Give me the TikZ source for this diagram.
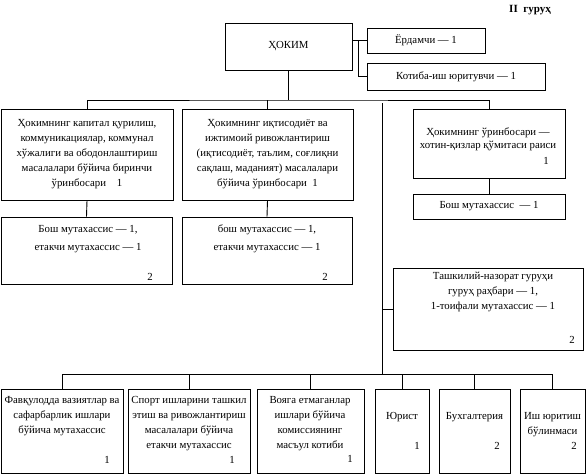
\documentclass[tikz,border=0pt]{standalone}
\usepackage{fontspec}
\setmainfont{Liberation Serif}
\begin{document}
\begin{tikzpicture}[x=1pt,y=-1pt,line width=0.9pt,
    box/.style={draw,inner sep=0pt,align=center,font=\fontsize{10.8}{15}\selectfont},
    txt/.style={inner sep=0pt,align=center,font=\fontsize{10.8}{15}\selectfont},
    num/.style={inner sep=0pt,font=\fontsize{10.8}{15}\selectfont}]
    \useasboundingbox (0,0) rectangle (586,475);
    \node[font=\bfseries\fontsize{11}{13}\selectfont] (grp) at (530,10) {II~ гуруҳ};
    % top level
    \node[box,minimum width=127,minimum height=47] (hokim) at (288.5,46.5) {ҲОКИМ};
    \node[box,minimum width=118,minimum height=25] (yordam) at (426,40.5) {Ёрдамчи — 1};
    \node[box,minimum width=178,minimum height=27] (kotiba) at (456,76.5) {Котиба-иш юритувчи — 1};
    \coordinate (fork) at (358,0);
    \coordinate (bus) at (289,100);
    \coordinate (spine) at (382,103);
    \coordinate (bus2) at (382,374);
    % deputies
    \node[box,minimum width=172,minimum height=91] (o1) at (87,154.5)
      {Ҳокимнинг капитал қурилиш,\\ коммуникациялар, коммунал\\ хўжалиги ва ободонлаштириш\\ масалалари бўйича биринчи\\ ўринбосари\quad 1};
    \node[box,minimum width=171,minimum height=91] (o2) at (267.5,154.5)
      {Ҳокимнинг иқтисодиёт ва\\ ижтимоий ривожлантириш\\ (иқтисодиёт, таълим, соғлиқни\\ сақлаш, маданият) масалалари\\ бўйича ўринбосари~ 1};
    \node[box,minimum width=152,minimum height=69] (o3) at (489,143.5) {};
    \node[txt] (o3t) at (488,139.5) {Ҳокимнинг ўринбосари —\\[-2pt] хотин-қизлар қўмитаси раиси};
    \node[num] (o3n) at (546,161) {1};
    \node[box,minimum width=152,minimum height=25] (o3b) at (489,206.5) {Бош мутахассис~ — 1};
    % specialists
    \node[box,minimum width=171,minimum height=67] (s1) at (86.5,250.5) {};
    \node[txt] (s1t) at (88,239) {Бош мутахассис — 1,\\[3pt] етакчи мутахассис — 1};
    \node[num] (s1n) at (150,277) {2};
    \node[box,minimum width=170,minimum height=67] (s2) at (267,250.5) {};
    \node[txt] (s2t) at (267,239) {бош мутахассис — 1,\\[3pt] етакчи мутахассис — 1};
    \node[num] (s2n) at (325,277) {2};
    \node[box,minimum width=190,minimum height=82] (tash) at (488,309) {};
    \node[txt] (tasht) at (493,292) {Ташкилий-назорат гуруҳи\\ гуруҳ раҳбари — 1,\\ 1-тоифали мутахассис — 1};
    \node[num] (tashn) at (572,340) {2};
    % bottom row
    \node[box,minimum width=122,minimum height=84] (b1) at (62,431) {};
    \node[txt] (b1t) at (62,416.5) {Фавқулодда вазиятлар ва\\ сафарбарлик ишлари\\ бўйича мутахассис};
    \node[num] (b1n) at (107,460) {1};
    \node[box,minimum width=122,minimum height=84] (b2) at (189,431) {};
    \node[txt] (b2t) at (189,424) {Спорт ишларини ташкил\\ этиш ва ривожлантириш\\ масалалари бўйича\\ етакчи мутахассис};
    \node[num] (b2n) at (232,460) {1};
    \node[box,minimum width=107,minimum height=84] (b3) at (310.5,431) {};
    \node[txt] (b3t) at (310,424) {Вояга етмаганлар\\ ишлари бўйича\\ комиссиянинг\\ масъул котиби};
    \node[num] (b3n) at (350,459) {1};
    \node[box,minimum width=54,minimum height=84] (b4) at (402,431) {};
    \node[txt] (b4t) at (402,417) {Юрист};
    \node[num] (b4n) at (417,446) {1};
    \node[box,minimum width=71,minimum height=84] (b5) at (474.5,431) {};
    \node[txt] (b5t) at (474.5,417) {Бухгалтерия};
    \node[num] (b5n) at (497,446) {2};
    \node[box,minimum width=65,minimum height=84] (b6) at (552.5,431) {};
    \node[txt] (b6t) at (552.5,424.5) {Иш юритиш\\ бўлинмаси};
    \node[num] (b6n) at (574,446) {2};
    % connectors
    \draw (hokim.east |- yordam.west) -- (yordam.west);
    \draw (yordam.west -| fork) |- (kotiba.west);
    \draw (hokim.south) -- (hokim.south |- bus);
    \draw (o1.north) |- (bus) -| (o3.north);
    \draw (o2.north) -- (o2.north |- bus);
    \draw (o1.south) -- (s1.north);
    \draw (o2.south) -- (s2.north);
    \draw (o3.south) -- (o3b.north);
    \draw (spine) -- (bus2);
    \draw (tash.west) -- (tash.west -| spine);
    \draw (b1.north) |- (bus2) -| (b6.north);
    \foreach \b in {b2,b3,b4,b5}
      \draw (\b.north) -- (\b.north |- bus2);
\end{tikzpicture}
\end{document}
